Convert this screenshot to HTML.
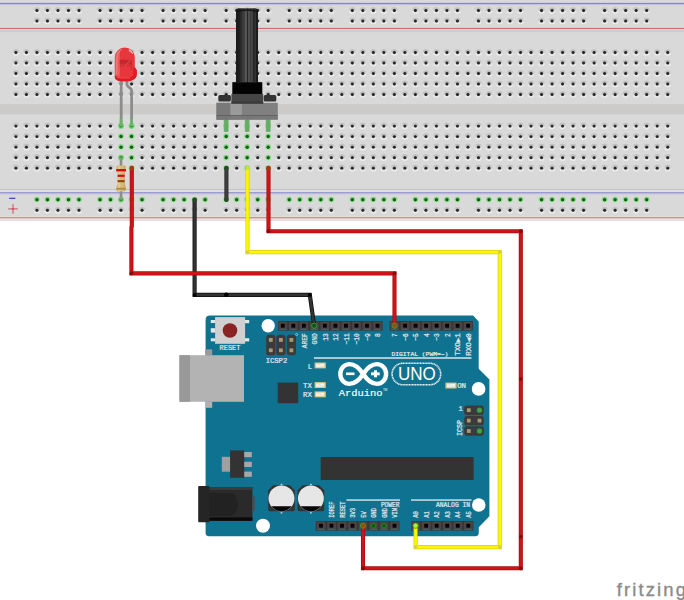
<!DOCTYPE html>
<html><head><meta charset="utf-8"><title>fritzing</title>
<style>html,body{margin:0;padding:0;background:#fff;width:684px;height:600px;overflow:hidden}
svg{display:block}</style></head><body>
<svg width="684" height="600" viewBox="0 0 684 600">
<rect width="684" height="600" fill="#fff"/>
<defs>
<linearGradient id="hg" x1="0" y1="0" x2="0" y2="1">
 <stop offset="0" stop-color="#b8b8b8"/><stop offset="0.35" stop-color="#c4c4c4"/><stop offset="0.55" stop-color="#dcdcdc"/><stop offset="0.75" stop-color="#efefef"/><stop offset="1" stop-color="#f2f2f2"/>
</linearGradient>
<radialGradient id="hc"><stop offset="0" stop-color="#202020"/><stop offset="0.55" stop-color="#2a2a2a"/><stop offset="1" stop-color="#5a5a5a"/></radialGradient>
<linearGradient id="gg" x1="0" y1="0" x2="0" y2="1">
 <stop offset="0" stop-color="#74d274"/><stop offset="1" stop-color="#a8f0a8"/>
</linearGradient>
<g id="h"><circle r="3.3" fill="url(#hg)" opacity="0.85"/><circle r="1.7" fill="url(#hc)"/></g>
<g id="g"><circle r="3.0" fill="url(#gg)"/><circle r="1.75" fill="#1c5a1c"/></g>
<linearGradient id="shaft" x1="0" y1="0" x2="1" y2="0">
 <stop offset="0" stop-color="#1a1a1a"/><stop offset="0.5" stop-color="#4a4a4a"/><stop offset="1" stop-color="#1a1a1a"/>
</linearGradient>
</defs>
<rect x="0" y="0" width="684" height="220.7" fill="#d9d9d9"/>
<rect x="0" y="1.9" width="684" height="0.9" fill="#e2e2e4"/>
<rect x="0" y="2.8" width="684" height="1.3" fill="#8484c0"/>
<rect x="0" y="4.1" width="684" height="1.0" fill="#bebee0"/>
<rect x="0" y="26.9" width="684" height="0.95" fill="#e4dcdc"/>
<rect x="0" y="27.85" width="684" height="1.3" fill="#d86a6a"/>
<rect x="0" y="29.15" width="684" height="1.0" fill="#e2dada"/>
<rect x="0" y="30.3" width="684" height="1.8" fill="#cbcbcb"/>
<rect x="0" y="104.1" width="684" height="10.2" fill="#cccbca"/>
<rect x="0" y="189.0" width="684" height="1.2" fill="#c2c2c2"/>
<rect x="0" y="190.2" width="684" height="1.6" fill="#e2e2e2"/>
<rect x="0" y="192.2" width="684" height="1.3" fill="#8c8cd0"/>
<rect x="0" y="193.5" width="684" height="0.9" fill="#c4c4e4"/>
<rect x="0" y="216.3" width="684" height="0.9" fill="#e4dcdc"/>
<rect x="0" y="217.2" width="684" height="1.3" fill="#e07878"/>
<rect x="0" y="218.5" width="684" height="2.2" fill="#e2e2e2"/>
<use href="#h" x="15.90" y="52.50"/>
<use href="#h" x="26.41" y="52.50"/>
<use href="#h" x="36.93" y="52.50"/>
<use href="#h" x="47.44" y="52.50"/>
<use href="#h" x="57.95" y="52.50"/>
<use href="#h" x="68.47" y="52.50"/>
<use href="#h" x="78.98" y="52.50"/>
<use href="#h" x="89.49" y="52.50"/>
<use href="#h" x="100.00" y="52.50"/>
<use href="#h" x="110.52" y="52.50"/>
<use href="#h" x="121.03" y="52.50"/>
<use href="#h" x="131.54" y="52.50"/>
<use href="#h" x="142.06" y="52.50"/>
<use href="#h" x="152.57" y="52.50"/>
<use href="#h" x="163.08" y="52.50"/>
<use href="#h" x="173.59" y="52.50"/>
<use href="#h" x="184.11" y="52.50"/>
<use href="#h" x="194.62" y="52.50"/>
<use href="#h" x="205.13" y="52.50"/>
<use href="#h" x="215.65" y="52.50"/>
<use href="#h" x="226.16" y="52.50"/>
<use href="#h" x="236.67" y="52.50"/>
<use href="#h" x="247.19" y="52.50"/>
<use href="#h" x="257.70" y="52.50"/>
<use href="#h" x="268.21" y="52.50"/>
<use href="#h" x="278.72" y="52.50"/>
<use href="#h" x="289.24" y="52.50"/>
<use href="#h" x="299.75" y="52.50"/>
<use href="#h" x="310.26" y="52.50"/>
<use href="#h" x="320.78" y="52.50"/>
<use href="#h" x="331.29" y="52.50"/>
<use href="#h" x="341.80" y="52.50"/>
<use href="#h" x="352.32" y="52.50"/>
<use href="#h" x="362.83" y="52.50"/>
<use href="#h" x="373.34" y="52.50"/>
<use href="#h" x="383.85" y="52.50"/>
<use href="#h" x="394.37" y="52.50"/>
<use href="#h" x="404.88" y="52.50"/>
<use href="#h" x="415.39" y="52.50"/>
<use href="#h" x="425.91" y="52.50"/>
<use href="#h" x="436.42" y="52.50"/>
<use href="#h" x="446.93" y="52.50"/>
<use href="#h" x="457.45" y="52.50"/>
<use href="#h" x="467.96" y="52.50"/>
<use href="#h" x="478.47" y="52.50"/>
<use href="#h" x="488.98" y="52.50"/>
<use href="#h" x="499.50" y="52.50"/>
<use href="#h" x="510.01" y="52.50"/>
<use href="#h" x="520.52" y="52.50"/>
<use href="#h" x="531.04" y="52.50"/>
<use href="#h" x="541.55" y="52.50"/>
<use href="#h" x="552.06" y="52.50"/>
<use href="#h" x="562.58" y="52.50"/>
<use href="#h" x="573.09" y="52.50"/>
<use href="#h" x="583.60" y="52.50"/>
<use href="#h" x="594.12" y="52.50"/>
<use href="#h" x="604.63" y="52.50"/>
<use href="#h" x="615.14" y="52.50"/>
<use href="#h" x="625.65" y="52.50"/>
<use href="#h" x="636.17" y="52.50"/>
<use href="#h" x="646.68" y="52.50"/>
<use href="#h" x="657.19" y="52.50"/>
<use href="#h" x="667.71" y="52.50"/>
<use href="#h" x="15.90" y="63.01"/>
<use href="#h" x="26.41" y="63.01"/>
<use href="#h" x="36.93" y="63.01"/>
<use href="#h" x="47.44" y="63.01"/>
<use href="#h" x="57.95" y="63.01"/>
<use href="#h" x="68.47" y="63.01"/>
<use href="#h" x="78.98" y="63.01"/>
<use href="#h" x="89.49" y="63.01"/>
<use href="#h" x="100.00" y="63.01"/>
<use href="#h" x="110.52" y="63.01"/>
<use href="#h" x="121.03" y="63.01"/>
<use href="#h" x="131.54" y="63.01"/>
<use href="#h" x="142.06" y="63.01"/>
<use href="#h" x="152.57" y="63.01"/>
<use href="#h" x="163.08" y="63.01"/>
<use href="#h" x="173.59" y="63.01"/>
<use href="#h" x="184.11" y="63.01"/>
<use href="#h" x="194.62" y="63.01"/>
<use href="#h" x="205.13" y="63.01"/>
<use href="#h" x="215.65" y="63.01"/>
<use href="#h" x="226.16" y="63.01"/>
<use href="#h" x="236.67" y="63.01"/>
<use href="#h" x="247.19" y="63.01"/>
<use href="#h" x="257.70" y="63.01"/>
<use href="#h" x="268.21" y="63.01"/>
<use href="#h" x="278.72" y="63.01"/>
<use href="#h" x="289.24" y="63.01"/>
<use href="#h" x="299.75" y="63.01"/>
<use href="#h" x="310.26" y="63.01"/>
<use href="#h" x="320.78" y="63.01"/>
<use href="#h" x="331.29" y="63.01"/>
<use href="#h" x="341.80" y="63.01"/>
<use href="#h" x="352.32" y="63.01"/>
<use href="#h" x="362.83" y="63.01"/>
<use href="#h" x="373.34" y="63.01"/>
<use href="#h" x="383.85" y="63.01"/>
<use href="#h" x="394.37" y="63.01"/>
<use href="#h" x="404.88" y="63.01"/>
<use href="#h" x="415.39" y="63.01"/>
<use href="#h" x="425.91" y="63.01"/>
<use href="#h" x="436.42" y="63.01"/>
<use href="#h" x="446.93" y="63.01"/>
<use href="#h" x="457.45" y="63.01"/>
<use href="#h" x="467.96" y="63.01"/>
<use href="#h" x="478.47" y="63.01"/>
<use href="#h" x="488.98" y="63.01"/>
<use href="#h" x="499.50" y="63.01"/>
<use href="#h" x="510.01" y="63.01"/>
<use href="#h" x="520.52" y="63.01"/>
<use href="#h" x="531.04" y="63.01"/>
<use href="#h" x="541.55" y="63.01"/>
<use href="#h" x="552.06" y="63.01"/>
<use href="#h" x="562.58" y="63.01"/>
<use href="#h" x="573.09" y="63.01"/>
<use href="#h" x="583.60" y="63.01"/>
<use href="#h" x="594.12" y="63.01"/>
<use href="#h" x="604.63" y="63.01"/>
<use href="#h" x="615.14" y="63.01"/>
<use href="#h" x="625.65" y="63.01"/>
<use href="#h" x="636.17" y="63.01"/>
<use href="#h" x="646.68" y="63.01"/>
<use href="#h" x="657.19" y="63.01"/>
<use href="#h" x="667.71" y="63.01"/>
<use href="#h" x="15.90" y="73.53"/>
<use href="#h" x="26.41" y="73.53"/>
<use href="#h" x="36.93" y="73.53"/>
<use href="#h" x="47.44" y="73.53"/>
<use href="#h" x="57.95" y="73.53"/>
<use href="#h" x="68.47" y="73.53"/>
<use href="#h" x="78.98" y="73.53"/>
<use href="#h" x="89.49" y="73.53"/>
<use href="#h" x="100.00" y="73.53"/>
<use href="#h" x="110.52" y="73.53"/>
<use href="#h" x="121.03" y="73.53"/>
<use href="#h" x="131.54" y="73.53"/>
<use href="#h" x="142.06" y="73.53"/>
<use href="#h" x="152.57" y="73.53"/>
<use href="#h" x="163.08" y="73.53"/>
<use href="#h" x="173.59" y="73.53"/>
<use href="#h" x="184.11" y="73.53"/>
<use href="#h" x="194.62" y="73.53"/>
<use href="#h" x="205.13" y="73.53"/>
<use href="#h" x="215.65" y="73.53"/>
<use href="#h" x="226.16" y="73.53"/>
<use href="#h" x="236.67" y="73.53"/>
<use href="#h" x="247.19" y="73.53"/>
<use href="#h" x="257.70" y="73.53"/>
<use href="#h" x="268.21" y="73.53"/>
<use href="#h" x="278.72" y="73.53"/>
<use href="#h" x="289.24" y="73.53"/>
<use href="#h" x="299.75" y="73.53"/>
<use href="#h" x="310.26" y="73.53"/>
<use href="#h" x="320.78" y="73.53"/>
<use href="#h" x="331.29" y="73.53"/>
<use href="#h" x="341.80" y="73.53"/>
<use href="#h" x="352.32" y="73.53"/>
<use href="#h" x="362.83" y="73.53"/>
<use href="#h" x="373.34" y="73.53"/>
<use href="#h" x="383.85" y="73.53"/>
<use href="#h" x="394.37" y="73.53"/>
<use href="#h" x="404.88" y="73.53"/>
<use href="#h" x="415.39" y="73.53"/>
<use href="#h" x="425.91" y="73.53"/>
<use href="#h" x="436.42" y="73.53"/>
<use href="#h" x="446.93" y="73.53"/>
<use href="#h" x="457.45" y="73.53"/>
<use href="#h" x="467.96" y="73.53"/>
<use href="#h" x="478.47" y="73.53"/>
<use href="#h" x="488.98" y="73.53"/>
<use href="#h" x="499.50" y="73.53"/>
<use href="#h" x="510.01" y="73.53"/>
<use href="#h" x="520.52" y="73.53"/>
<use href="#h" x="531.04" y="73.53"/>
<use href="#h" x="541.55" y="73.53"/>
<use href="#h" x="552.06" y="73.53"/>
<use href="#h" x="562.58" y="73.53"/>
<use href="#h" x="573.09" y="73.53"/>
<use href="#h" x="583.60" y="73.53"/>
<use href="#h" x="594.12" y="73.53"/>
<use href="#h" x="604.63" y="73.53"/>
<use href="#h" x="615.14" y="73.53"/>
<use href="#h" x="625.65" y="73.53"/>
<use href="#h" x="636.17" y="73.53"/>
<use href="#h" x="646.68" y="73.53"/>
<use href="#h" x="657.19" y="73.53"/>
<use href="#h" x="667.71" y="73.53"/>
<use href="#h" x="15.90" y="84.04"/>
<use href="#h" x="26.41" y="84.04"/>
<use href="#h" x="36.93" y="84.04"/>
<use href="#h" x="47.44" y="84.04"/>
<use href="#h" x="57.95" y="84.04"/>
<use href="#h" x="68.47" y="84.04"/>
<use href="#h" x="78.98" y="84.04"/>
<use href="#h" x="89.49" y="84.04"/>
<use href="#h" x="100.00" y="84.04"/>
<use href="#h" x="110.52" y="84.04"/>
<use href="#h" x="121.03" y="84.04"/>
<use href="#h" x="131.54" y="84.04"/>
<use href="#h" x="142.06" y="84.04"/>
<use href="#h" x="152.57" y="84.04"/>
<use href="#h" x="163.08" y="84.04"/>
<use href="#h" x="173.59" y="84.04"/>
<use href="#h" x="184.11" y="84.04"/>
<use href="#h" x="194.62" y="84.04"/>
<use href="#h" x="205.13" y="84.04"/>
<use href="#h" x="215.65" y="84.04"/>
<use href="#h" x="226.16" y="84.04"/>
<use href="#h" x="236.67" y="84.04"/>
<use href="#h" x="247.19" y="84.04"/>
<use href="#h" x="257.70" y="84.04"/>
<use href="#h" x="268.21" y="84.04"/>
<use href="#h" x="278.72" y="84.04"/>
<use href="#h" x="289.24" y="84.04"/>
<use href="#h" x="299.75" y="84.04"/>
<use href="#h" x="310.26" y="84.04"/>
<use href="#h" x="320.78" y="84.04"/>
<use href="#h" x="331.29" y="84.04"/>
<use href="#h" x="341.80" y="84.04"/>
<use href="#h" x="352.32" y="84.04"/>
<use href="#h" x="362.83" y="84.04"/>
<use href="#h" x="373.34" y="84.04"/>
<use href="#h" x="383.85" y="84.04"/>
<use href="#h" x="394.37" y="84.04"/>
<use href="#h" x="404.88" y="84.04"/>
<use href="#h" x="415.39" y="84.04"/>
<use href="#h" x="425.91" y="84.04"/>
<use href="#h" x="436.42" y="84.04"/>
<use href="#h" x="446.93" y="84.04"/>
<use href="#h" x="457.45" y="84.04"/>
<use href="#h" x="467.96" y="84.04"/>
<use href="#h" x="478.47" y="84.04"/>
<use href="#h" x="488.98" y="84.04"/>
<use href="#h" x="499.50" y="84.04"/>
<use href="#h" x="510.01" y="84.04"/>
<use href="#h" x="520.52" y="84.04"/>
<use href="#h" x="531.04" y="84.04"/>
<use href="#h" x="541.55" y="84.04"/>
<use href="#h" x="552.06" y="84.04"/>
<use href="#h" x="562.58" y="84.04"/>
<use href="#h" x="573.09" y="84.04"/>
<use href="#h" x="583.60" y="84.04"/>
<use href="#h" x="594.12" y="84.04"/>
<use href="#h" x="604.63" y="84.04"/>
<use href="#h" x="615.14" y="84.04"/>
<use href="#h" x="625.65" y="84.04"/>
<use href="#h" x="636.17" y="84.04"/>
<use href="#h" x="646.68" y="84.04"/>
<use href="#h" x="657.19" y="84.04"/>
<use href="#h" x="667.71" y="84.04"/>
<use href="#h" x="15.90" y="94.55"/>
<use href="#h" x="26.41" y="94.55"/>
<use href="#h" x="36.93" y="94.55"/>
<use href="#h" x="47.44" y="94.55"/>
<use href="#h" x="57.95" y="94.55"/>
<use href="#h" x="68.47" y="94.55"/>
<use href="#h" x="78.98" y="94.55"/>
<use href="#h" x="89.49" y="94.55"/>
<use href="#h" x="100.00" y="94.55"/>
<use href="#h" x="110.52" y="94.55"/>
<use href="#h" x="121.03" y="94.55"/>
<use href="#h" x="131.54" y="94.55"/>
<use href="#h" x="142.06" y="94.55"/>
<use href="#h" x="152.57" y="94.55"/>
<use href="#h" x="163.08" y="94.55"/>
<use href="#h" x="173.59" y="94.55"/>
<use href="#h" x="184.11" y="94.55"/>
<use href="#h" x="194.62" y="94.55"/>
<use href="#h" x="205.13" y="94.55"/>
<use href="#h" x="215.65" y="94.55"/>
<use href="#h" x="226.16" y="94.55"/>
<use href="#h" x="236.67" y="94.55"/>
<use href="#h" x="247.19" y="94.55"/>
<use href="#h" x="257.70" y="94.55"/>
<use href="#h" x="268.21" y="94.55"/>
<use href="#h" x="278.72" y="94.55"/>
<use href="#h" x="289.24" y="94.55"/>
<use href="#h" x="299.75" y="94.55"/>
<use href="#h" x="310.26" y="94.55"/>
<use href="#h" x="320.78" y="94.55"/>
<use href="#h" x="331.29" y="94.55"/>
<use href="#h" x="341.80" y="94.55"/>
<use href="#h" x="352.32" y="94.55"/>
<use href="#h" x="362.83" y="94.55"/>
<use href="#h" x="373.34" y="94.55"/>
<use href="#h" x="383.85" y="94.55"/>
<use href="#h" x="394.37" y="94.55"/>
<use href="#h" x="404.88" y="94.55"/>
<use href="#h" x="415.39" y="94.55"/>
<use href="#h" x="425.91" y="94.55"/>
<use href="#h" x="436.42" y="94.55"/>
<use href="#h" x="446.93" y="94.55"/>
<use href="#h" x="457.45" y="94.55"/>
<use href="#h" x="467.96" y="94.55"/>
<use href="#h" x="478.47" y="94.55"/>
<use href="#h" x="488.98" y="94.55"/>
<use href="#h" x="499.50" y="94.55"/>
<use href="#h" x="510.01" y="94.55"/>
<use href="#h" x="520.52" y="94.55"/>
<use href="#h" x="531.04" y="94.55"/>
<use href="#h" x="541.55" y="94.55"/>
<use href="#h" x="552.06" y="94.55"/>
<use href="#h" x="562.58" y="94.55"/>
<use href="#h" x="573.09" y="94.55"/>
<use href="#h" x="583.60" y="94.55"/>
<use href="#h" x="594.12" y="94.55"/>
<use href="#h" x="604.63" y="94.55"/>
<use href="#h" x="615.14" y="94.55"/>
<use href="#h" x="625.65" y="94.55"/>
<use href="#h" x="636.17" y="94.55"/>
<use href="#h" x="646.68" y="94.55"/>
<use href="#h" x="657.19" y="94.55"/>
<use href="#h" x="667.71" y="94.55"/>
<use href="#h" x="15.90" y="126.10"/>
<use href="#h" x="26.41" y="126.10"/>
<use href="#h" x="36.93" y="126.10"/>
<use href="#h" x="47.44" y="126.10"/>
<use href="#h" x="57.95" y="126.10"/>
<use href="#h" x="68.47" y="126.10"/>
<use href="#h" x="78.98" y="126.10"/>
<use href="#h" x="89.49" y="126.10"/>
<use href="#h" x="100.00" y="126.10"/>
<use href="#h" x="110.52" y="126.10"/>
<use href="#g" x="121.03" y="126.10"/>
<use href="#g" x="131.54" y="126.10"/>
<use href="#h" x="142.06" y="126.10"/>
<use href="#h" x="152.57" y="126.10"/>
<use href="#h" x="163.08" y="126.10"/>
<use href="#h" x="173.59" y="126.10"/>
<use href="#h" x="184.11" y="126.10"/>
<use href="#h" x="194.62" y="126.10"/>
<use href="#h" x="205.13" y="126.10"/>
<use href="#h" x="215.65" y="126.10"/>
<use href="#g" x="226.16" y="126.10"/>
<use href="#h" x="236.67" y="126.10"/>
<use href="#g" x="247.19" y="126.10"/>
<use href="#h" x="257.70" y="126.10"/>
<use href="#g" x="268.21" y="126.10"/>
<use href="#h" x="278.72" y="126.10"/>
<use href="#h" x="289.24" y="126.10"/>
<use href="#h" x="299.75" y="126.10"/>
<use href="#h" x="310.26" y="126.10"/>
<use href="#h" x="320.78" y="126.10"/>
<use href="#h" x="331.29" y="126.10"/>
<use href="#h" x="341.80" y="126.10"/>
<use href="#h" x="352.32" y="126.10"/>
<use href="#h" x="362.83" y="126.10"/>
<use href="#h" x="373.34" y="126.10"/>
<use href="#h" x="383.85" y="126.10"/>
<use href="#h" x="394.37" y="126.10"/>
<use href="#h" x="404.88" y="126.10"/>
<use href="#h" x="415.39" y="126.10"/>
<use href="#h" x="425.91" y="126.10"/>
<use href="#h" x="436.42" y="126.10"/>
<use href="#h" x="446.93" y="126.10"/>
<use href="#h" x="457.45" y="126.10"/>
<use href="#h" x="467.96" y="126.10"/>
<use href="#h" x="478.47" y="126.10"/>
<use href="#h" x="488.98" y="126.10"/>
<use href="#h" x="499.50" y="126.10"/>
<use href="#h" x="510.01" y="126.10"/>
<use href="#h" x="520.52" y="126.10"/>
<use href="#h" x="531.04" y="126.10"/>
<use href="#h" x="541.55" y="126.10"/>
<use href="#h" x="552.06" y="126.10"/>
<use href="#h" x="562.58" y="126.10"/>
<use href="#h" x="573.09" y="126.10"/>
<use href="#h" x="583.60" y="126.10"/>
<use href="#h" x="594.12" y="126.10"/>
<use href="#h" x="604.63" y="126.10"/>
<use href="#h" x="615.14" y="126.10"/>
<use href="#h" x="625.65" y="126.10"/>
<use href="#h" x="636.17" y="126.10"/>
<use href="#h" x="646.68" y="126.10"/>
<use href="#h" x="657.19" y="126.10"/>
<use href="#h" x="667.71" y="126.10"/>
<use href="#h" x="15.90" y="136.61"/>
<use href="#h" x="26.41" y="136.61"/>
<use href="#h" x="36.93" y="136.61"/>
<use href="#h" x="47.44" y="136.61"/>
<use href="#h" x="57.95" y="136.61"/>
<use href="#h" x="68.47" y="136.61"/>
<use href="#h" x="78.98" y="136.61"/>
<use href="#h" x="89.49" y="136.61"/>
<use href="#h" x="100.00" y="136.61"/>
<use href="#h" x="110.52" y="136.61"/>
<use href="#g" x="121.03" y="136.61"/>
<use href="#g" x="131.54" y="136.61"/>
<use href="#h" x="142.06" y="136.61"/>
<use href="#h" x="152.57" y="136.61"/>
<use href="#h" x="163.08" y="136.61"/>
<use href="#h" x="173.59" y="136.61"/>
<use href="#h" x="184.11" y="136.61"/>
<use href="#h" x="194.62" y="136.61"/>
<use href="#h" x="205.13" y="136.61"/>
<use href="#h" x="215.65" y="136.61"/>
<use href="#g" x="226.16" y="136.61"/>
<use href="#h" x="236.67" y="136.61"/>
<use href="#g" x="247.19" y="136.61"/>
<use href="#h" x="257.70" y="136.61"/>
<use href="#g" x="268.21" y="136.61"/>
<use href="#h" x="278.72" y="136.61"/>
<use href="#h" x="289.24" y="136.61"/>
<use href="#h" x="299.75" y="136.61"/>
<use href="#h" x="310.26" y="136.61"/>
<use href="#h" x="320.78" y="136.61"/>
<use href="#h" x="331.29" y="136.61"/>
<use href="#h" x="341.80" y="136.61"/>
<use href="#h" x="352.32" y="136.61"/>
<use href="#h" x="362.83" y="136.61"/>
<use href="#h" x="373.34" y="136.61"/>
<use href="#h" x="383.85" y="136.61"/>
<use href="#h" x="394.37" y="136.61"/>
<use href="#h" x="404.88" y="136.61"/>
<use href="#h" x="415.39" y="136.61"/>
<use href="#h" x="425.91" y="136.61"/>
<use href="#h" x="436.42" y="136.61"/>
<use href="#h" x="446.93" y="136.61"/>
<use href="#h" x="457.45" y="136.61"/>
<use href="#h" x="467.96" y="136.61"/>
<use href="#h" x="478.47" y="136.61"/>
<use href="#h" x="488.98" y="136.61"/>
<use href="#h" x="499.50" y="136.61"/>
<use href="#h" x="510.01" y="136.61"/>
<use href="#h" x="520.52" y="136.61"/>
<use href="#h" x="531.04" y="136.61"/>
<use href="#h" x="541.55" y="136.61"/>
<use href="#h" x="552.06" y="136.61"/>
<use href="#h" x="562.58" y="136.61"/>
<use href="#h" x="573.09" y="136.61"/>
<use href="#h" x="583.60" y="136.61"/>
<use href="#h" x="594.12" y="136.61"/>
<use href="#h" x="604.63" y="136.61"/>
<use href="#h" x="615.14" y="136.61"/>
<use href="#h" x="625.65" y="136.61"/>
<use href="#h" x="636.17" y="136.61"/>
<use href="#h" x="646.68" y="136.61"/>
<use href="#h" x="657.19" y="136.61"/>
<use href="#h" x="667.71" y="136.61"/>
<use href="#h" x="15.90" y="147.13"/>
<use href="#h" x="26.41" y="147.13"/>
<use href="#h" x="36.93" y="147.13"/>
<use href="#h" x="47.44" y="147.13"/>
<use href="#h" x="57.95" y="147.13"/>
<use href="#h" x="68.47" y="147.13"/>
<use href="#h" x="78.98" y="147.13"/>
<use href="#h" x="89.49" y="147.13"/>
<use href="#h" x="100.00" y="147.13"/>
<use href="#h" x="110.52" y="147.13"/>
<use href="#g" x="121.03" y="147.13"/>
<use href="#g" x="131.54" y="147.13"/>
<use href="#h" x="142.06" y="147.13"/>
<use href="#h" x="152.57" y="147.13"/>
<use href="#h" x="163.08" y="147.13"/>
<use href="#h" x="173.59" y="147.13"/>
<use href="#h" x="184.11" y="147.13"/>
<use href="#h" x="194.62" y="147.13"/>
<use href="#h" x="205.13" y="147.13"/>
<use href="#h" x="215.65" y="147.13"/>
<use href="#g" x="226.16" y="147.13"/>
<use href="#h" x="236.67" y="147.13"/>
<use href="#g" x="247.19" y="147.13"/>
<use href="#h" x="257.70" y="147.13"/>
<use href="#g" x="268.21" y="147.13"/>
<use href="#h" x="278.72" y="147.13"/>
<use href="#h" x="289.24" y="147.13"/>
<use href="#h" x="299.75" y="147.13"/>
<use href="#h" x="310.26" y="147.13"/>
<use href="#h" x="320.78" y="147.13"/>
<use href="#h" x="331.29" y="147.13"/>
<use href="#h" x="341.80" y="147.13"/>
<use href="#h" x="352.32" y="147.13"/>
<use href="#h" x="362.83" y="147.13"/>
<use href="#h" x="373.34" y="147.13"/>
<use href="#h" x="383.85" y="147.13"/>
<use href="#h" x="394.37" y="147.13"/>
<use href="#h" x="404.88" y="147.13"/>
<use href="#h" x="415.39" y="147.13"/>
<use href="#h" x="425.91" y="147.13"/>
<use href="#h" x="436.42" y="147.13"/>
<use href="#h" x="446.93" y="147.13"/>
<use href="#h" x="457.45" y="147.13"/>
<use href="#h" x="467.96" y="147.13"/>
<use href="#h" x="478.47" y="147.13"/>
<use href="#h" x="488.98" y="147.13"/>
<use href="#h" x="499.50" y="147.13"/>
<use href="#h" x="510.01" y="147.13"/>
<use href="#h" x="520.52" y="147.13"/>
<use href="#h" x="531.04" y="147.13"/>
<use href="#h" x="541.55" y="147.13"/>
<use href="#h" x="552.06" y="147.13"/>
<use href="#h" x="562.58" y="147.13"/>
<use href="#h" x="573.09" y="147.13"/>
<use href="#h" x="583.60" y="147.13"/>
<use href="#h" x="594.12" y="147.13"/>
<use href="#h" x="604.63" y="147.13"/>
<use href="#h" x="615.14" y="147.13"/>
<use href="#h" x="625.65" y="147.13"/>
<use href="#h" x="636.17" y="147.13"/>
<use href="#h" x="646.68" y="147.13"/>
<use href="#h" x="657.19" y="147.13"/>
<use href="#h" x="667.71" y="147.13"/>
<use href="#h" x="15.90" y="157.64"/>
<use href="#h" x="26.41" y="157.64"/>
<use href="#h" x="36.93" y="157.64"/>
<use href="#h" x="47.44" y="157.64"/>
<use href="#h" x="57.95" y="157.64"/>
<use href="#h" x="68.47" y="157.64"/>
<use href="#h" x="78.98" y="157.64"/>
<use href="#h" x="89.49" y="157.64"/>
<use href="#h" x="100.00" y="157.64"/>
<use href="#h" x="110.52" y="157.64"/>
<use href="#g" x="121.03" y="157.64"/>
<use href="#g" x="131.54" y="157.64"/>
<use href="#h" x="142.06" y="157.64"/>
<use href="#h" x="152.57" y="157.64"/>
<use href="#h" x="163.08" y="157.64"/>
<use href="#h" x="173.59" y="157.64"/>
<use href="#h" x="184.11" y="157.64"/>
<use href="#h" x="194.62" y="157.64"/>
<use href="#h" x="205.13" y="157.64"/>
<use href="#h" x="215.65" y="157.64"/>
<use href="#g" x="226.16" y="157.64"/>
<use href="#h" x="236.67" y="157.64"/>
<use href="#g" x="247.19" y="157.64"/>
<use href="#h" x="257.70" y="157.64"/>
<use href="#g" x="268.21" y="157.64"/>
<use href="#h" x="278.72" y="157.64"/>
<use href="#h" x="289.24" y="157.64"/>
<use href="#h" x="299.75" y="157.64"/>
<use href="#h" x="310.26" y="157.64"/>
<use href="#h" x="320.78" y="157.64"/>
<use href="#h" x="331.29" y="157.64"/>
<use href="#h" x="341.80" y="157.64"/>
<use href="#h" x="352.32" y="157.64"/>
<use href="#h" x="362.83" y="157.64"/>
<use href="#h" x="373.34" y="157.64"/>
<use href="#h" x="383.85" y="157.64"/>
<use href="#h" x="394.37" y="157.64"/>
<use href="#h" x="404.88" y="157.64"/>
<use href="#h" x="415.39" y="157.64"/>
<use href="#h" x="425.91" y="157.64"/>
<use href="#h" x="436.42" y="157.64"/>
<use href="#h" x="446.93" y="157.64"/>
<use href="#h" x="457.45" y="157.64"/>
<use href="#h" x="467.96" y="157.64"/>
<use href="#h" x="478.47" y="157.64"/>
<use href="#h" x="488.98" y="157.64"/>
<use href="#h" x="499.50" y="157.64"/>
<use href="#h" x="510.01" y="157.64"/>
<use href="#h" x="520.52" y="157.64"/>
<use href="#h" x="531.04" y="157.64"/>
<use href="#h" x="541.55" y="157.64"/>
<use href="#h" x="552.06" y="157.64"/>
<use href="#h" x="562.58" y="157.64"/>
<use href="#h" x="573.09" y="157.64"/>
<use href="#h" x="583.60" y="157.64"/>
<use href="#h" x="594.12" y="157.64"/>
<use href="#h" x="604.63" y="157.64"/>
<use href="#h" x="615.14" y="157.64"/>
<use href="#h" x="625.65" y="157.64"/>
<use href="#h" x="636.17" y="157.64"/>
<use href="#h" x="646.68" y="157.64"/>
<use href="#h" x="657.19" y="157.64"/>
<use href="#h" x="667.71" y="157.64"/>
<use href="#h" x="15.90" y="168.15"/>
<use href="#h" x="26.41" y="168.15"/>
<use href="#h" x="36.93" y="168.15"/>
<use href="#h" x="47.44" y="168.15"/>
<use href="#h" x="57.95" y="168.15"/>
<use href="#h" x="68.47" y="168.15"/>
<use href="#h" x="78.98" y="168.15"/>
<use href="#h" x="89.49" y="168.15"/>
<use href="#h" x="100.00" y="168.15"/>
<use href="#h" x="110.52" y="168.15"/>
<use href="#g" x="121.03" y="168.15"/>
<use href="#g" x="131.54" y="168.15"/>
<use href="#h" x="142.06" y="168.15"/>
<use href="#h" x="152.57" y="168.15"/>
<use href="#h" x="163.08" y="168.15"/>
<use href="#h" x="173.59" y="168.15"/>
<use href="#h" x="184.11" y="168.15"/>
<use href="#h" x="194.62" y="168.15"/>
<use href="#h" x="205.13" y="168.15"/>
<use href="#h" x="215.65" y="168.15"/>
<use href="#g" x="226.16" y="168.15"/>
<use href="#h" x="236.67" y="168.15"/>
<use href="#g" x="247.19" y="168.15"/>
<use href="#h" x="257.70" y="168.15"/>
<use href="#g" x="268.21" y="168.15"/>
<use href="#h" x="278.72" y="168.15"/>
<use href="#h" x="289.24" y="168.15"/>
<use href="#h" x="299.75" y="168.15"/>
<use href="#h" x="310.26" y="168.15"/>
<use href="#h" x="320.78" y="168.15"/>
<use href="#h" x="331.29" y="168.15"/>
<use href="#h" x="341.80" y="168.15"/>
<use href="#h" x="352.32" y="168.15"/>
<use href="#h" x="362.83" y="168.15"/>
<use href="#h" x="373.34" y="168.15"/>
<use href="#h" x="383.85" y="168.15"/>
<use href="#h" x="394.37" y="168.15"/>
<use href="#h" x="404.88" y="168.15"/>
<use href="#h" x="415.39" y="168.15"/>
<use href="#h" x="425.91" y="168.15"/>
<use href="#h" x="436.42" y="168.15"/>
<use href="#h" x="446.93" y="168.15"/>
<use href="#h" x="457.45" y="168.15"/>
<use href="#h" x="467.96" y="168.15"/>
<use href="#h" x="478.47" y="168.15"/>
<use href="#h" x="488.98" y="168.15"/>
<use href="#h" x="499.50" y="168.15"/>
<use href="#h" x="510.01" y="168.15"/>
<use href="#h" x="520.52" y="168.15"/>
<use href="#h" x="531.04" y="168.15"/>
<use href="#h" x="541.55" y="168.15"/>
<use href="#h" x="552.06" y="168.15"/>
<use href="#h" x="562.58" y="168.15"/>
<use href="#h" x="573.09" y="168.15"/>
<use href="#h" x="583.60" y="168.15"/>
<use href="#h" x="594.12" y="168.15"/>
<use href="#h" x="604.63" y="168.15"/>
<use href="#h" x="615.14" y="168.15"/>
<use href="#h" x="625.65" y="168.15"/>
<use href="#h" x="636.17" y="168.15"/>
<use href="#h" x="646.68" y="168.15"/>
<use href="#h" x="657.19" y="168.15"/>
<use href="#h" x="667.71" y="168.15"/>
<use href="#h" x="36.93" y="10.50"/>
<use href="#h" x="47.44" y="10.50"/>
<use href="#h" x="57.95" y="10.50"/>
<use href="#h" x="68.47" y="10.50"/>
<use href="#h" x="78.98" y="10.50"/>
<use href="#h" x="100.00" y="10.50"/>
<use href="#h" x="110.52" y="10.50"/>
<use href="#h" x="121.03" y="10.50"/>
<use href="#h" x="131.54" y="10.50"/>
<use href="#h" x="142.06" y="10.50"/>
<use href="#h" x="163.08" y="10.50"/>
<use href="#h" x="173.59" y="10.50"/>
<use href="#h" x="184.11" y="10.50"/>
<use href="#h" x="194.62" y="10.50"/>
<use href="#h" x="205.13" y="10.50"/>
<use href="#h" x="226.16" y="10.50"/>
<use href="#h" x="236.67" y="10.50"/>
<use href="#h" x="247.19" y="10.50"/>
<use href="#h" x="257.70" y="10.50"/>
<use href="#h" x="268.21" y="10.50"/>
<use href="#h" x="289.24" y="10.50"/>
<use href="#h" x="299.75" y="10.50"/>
<use href="#h" x="310.26" y="10.50"/>
<use href="#h" x="320.78" y="10.50"/>
<use href="#h" x="331.29" y="10.50"/>
<use href="#h" x="352.32" y="10.50"/>
<use href="#h" x="362.83" y="10.50"/>
<use href="#h" x="373.34" y="10.50"/>
<use href="#h" x="383.85" y="10.50"/>
<use href="#h" x="394.37" y="10.50"/>
<use href="#h" x="415.39" y="10.50"/>
<use href="#h" x="425.91" y="10.50"/>
<use href="#h" x="436.42" y="10.50"/>
<use href="#h" x="446.93" y="10.50"/>
<use href="#h" x="457.45" y="10.50"/>
<use href="#h" x="478.47" y="10.50"/>
<use href="#h" x="488.98" y="10.50"/>
<use href="#h" x="499.50" y="10.50"/>
<use href="#h" x="510.01" y="10.50"/>
<use href="#h" x="520.52" y="10.50"/>
<use href="#h" x="541.55" y="10.50"/>
<use href="#h" x="552.06" y="10.50"/>
<use href="#h" x="562.58" y="10.50"/>
<use href="#h" x="573.09" y="10.50"/>
<use href="#h" x="583.60" y="10.50"/>
<use href="#h" x="604.63" y="10.50"/>
<use href="#h" x="615.14" y="10.50"/>
<use href="#h" x="625.65" y="10.50"/>
<use href="#h" x="636.17" y="10.50"/>
<use href="#h" x="646.68" y="10.50"/>
<use href="#h" x="36.93" y="21.00"/>
<use href="#h" x="47.44" y="21.00"/>
<use href="#h" x="57.95" y="21.00"/>
<use href="#h" x="68.47" y="21.00"/>
<use href="#h" x="78.98" y="21.00"/>
<use href="#h" x="100.00" y="21.00"/>
<use href="#h" x="110.52" y="21.00"/>
<use href="#h" x="121.03" y="21.00"/>
<use href="#h" x="131.54" y="21.00"/>
<use href="#h" x="142.06" y="21.00"/>
<use href="#h" x="163.08" y="21.00"/>
<use href="#h" x="173.59" y="21.00"/>
<use href="#h" x="184.11" y="21.00"/>
<use href="#h" x="194.62" y="21.00"/>
<use href="#h" x="205.13" y="21.00"/>
<use href="#h" x="226.16" y="21.00"/>
<use href="#h" x="236.67" y="21.00"/>
<use href="#h" x="247.19" y="21.00"/>
<use href="#h" x="257.70" y="21.00"/>
<use href="#h" x="268.21" y="21.00"/>
<use href="#h" x="289.24" y="21.00"/>
<use href="#h" x="299.75" y="21.00"/>
<use href="#h" x="310.26" y="21.00"/>
<use href="#h" x="320.78" y="21.00"/>
<use href="#h" x="331.29" y="21.00"/>
<use href="#h" x="352.32" y="21.00"/>
<use href="#h" x="362.83" y="21.00"/>
<use href="#h" x="373.34" y="21.00"/>
<use href="#h" x="383.85" y="21.00"/>
<use href="#h" x="394.37" y="21.00"/>
<use href="#h" x="415.39" y="21.00"/>
<use href="#h" x="425.91" y="21.00"/>
<use href="#h" x="436.42" y="21.00"/>
<use href="#h" x="446.93" y="21.00"/>
<use href="#h" x="457.45" y="21.00"/>
<use href="#h" x="478.47" y="21.00"/>
<use href="#h" x="488.98" y="21.00"/>
<use href="#h" x="499.50" y="21.00"/>
<use href="#h" x="510.01" y="21.00"/>
<use href="#h" x="520.52" y="21.00"/>
<use href="#h" x="541.55" y="21.00"/>
<use href="#h" x="552.06" y="21.00"/>
<use href="#h" x="562.58" y="21.00"/>
<use href="#h" x="573.09" y="21.00"/>
<use href="#h" x="583.60" y="21.00"/>
<use href="#h" x="604.63" y="21.00"/>
<use href="#h" x="615.14" y="21.00"/>
<use href="#h" x="625.65" y="21.00"/>
<use href="#h" x="636.17" y="21.00"/>
<use href="#h" x="646.68" y="21.00"/>
<use href="#g" x="36.93" y="199.70"/>
<use href="#g" x="47.44" y="199.70"/>
<use href="#g" x="57.95" y="199.70"/>
<use href="#g" x="68.47" y="199.70"/>
<use href="#g" x="78.98" y="199.70"/>
<use href="#g" x="100.00" y="199.70"/>
<use href="#g" x="110.52" y="199.70"/>
<use href="#g" x="121.03" y="199.70"/>
<use href="#g" x="131.54" y="199.70"/>
<use href="#g" x="142.06" y="199.70"/>
<use href="#g" x="163.08" y="199.70"/>
<use href="#g" x="173.59" y="199.70"/>
<use href="#g" x="184.11" y="199.70"/>
<use href="#g" x="194.62" y="199.70"/>
<use href="#g" x="205.13" y="199.70"/>
<use href="#g" x="226.16" y="199.70"/>
<use href="#g" x="236.67" y="199.70"/>
<use href="#g" x="247.19" y="199.70"/>
<use href="#g" x="257.70" y="199.70"/>
<use href="#g" x="268.21" y="199.70"/>
<use href="#g" x="289.24" y="199.70"/>
<use href="#g" x="299.75" y="199.70"/>
<use href="#g" x="310.26" y="199.70"/>
<use href="#g" x="320.78" y="199.70"/>
<use href="#g" x="331.29" y="199.70"/>
<use href="#g" x="352.32" y="199.70"/>
<use href="#g" x="362.83" y="199.70"/>
<use href="#g" x="373.34" y="199.70"/>
<use href="#g" x="383.85" y="199.70"/>
<use href="#g" x="394.37" y="199.70"/>
<use href="#g" x="415.39" y="199.70"/>
<use href="#g" x="425.91" y="199.70"/>
<use href="#g" x="436.42" y="199.70"/>
<use href="#g" x="446.93" y="199.70"/>
<use href="#g" x="457.45" y="199.70"/>
<use href="#g" x="478.47" y="199.70"/>
<use href="#g" x="488.98" y="199.70"/>
<use href="#g" x="499.50" y="199.70"/>
<use href="#g" x="510.01" y="199.70"/>
<use href="#g" x="520.52" y="199.70"/>
<use href="#g" x="541.55" y="199.70"/>
<use href="#g" x="552.06" y="199.70"/>
<use href="#g" x="562.58" y="199.70"/>
<use href="#g" x="573.09" y="199.70"/>
<use href="#g" x="583.60" y="199.70"/>
<use href="#g" x="604.63" y="199.70"/>
<use href="#g" x="615.14" y="199.70"/>
<use href="#g" x="625.65" y="199.70"/>
<use href="#g" x="636.17" y="199.70"/>
<use href="#g" x="646.68" y="199.70"/>
<use href="#h" x="36.93" y="210.30"/>
<use href="#h" x="47.44" y="210.30"/>
<use href="#h" x="57.95" y="210.30"/>
<use href="#h" x="68.47" y="210.30"/>
<use href="#h" x="78.98" y="210.30"/>
<use href="#h" x="100.00" y="210.30"/>
<use href="#h" x="110.52" y="210.30"/>
<use href="#h" x="121.03" y="210.30"/>
<use href="#h" x="131.54" y="210.30"/>
<use href="#h" x="142.06" y="210.30"/>
<use href="#h" x="163.08" y="210.30"/>
<use href="#h" x="173.59" y="210.30"/>
<use href="#h" x="184.11" y="210.30"/>
<use href="#h" x="194.62" y="210.30"/>
<use href="#h" x="205.13" y="210.30"/>
<use href="#h" x="226.16" y="210.30"/>
<use href="#h" x="236.67" y="210.30"/>
<use href="#h" x="247.19" y="210.30"/>
<use href="#h" x="257.70" y="210.30"/>
<use href="#h" x="268.21" y="210.30"/>
<use href="#h" x="289.24" y="210.30"/>
<use href="#h" x="299.75" y="210.30"/>
<use href="#h" x="310.26" y="210.30"/>
<use href="#h" x="320.78" y="210.30"/>
<use href="#h" x="331.29" y="210.30"/>
<use href="#h" x="352.32" y="210.30"/>
<use href="#h" x="362.83" y="210.30"/>
<use href="#h" x="373.34" y="210.30"/>
<use href="#h" x="383.85" y="210.30"/>
<use href="#h" x="394.37" y="210.30"/>
<use href="#h" x="415.39" y="210.30"/>
<use href="#h" x="425.91" y="210.30"/>
<use href="#h" x="436.42" y="210.30"/>
<use href="#h" x="446.93" y="210.30"/>
<use href="#h" x="457.45" y="210.30"/>
<use href="#h" x="478.47" y="210.30"/>
<use href="#h" x="488.98" y="210.30"/>
<use href="#h" x="499.50" y="210.30"/>
<use href="#h" x="510.01" y="210.30"/>
<use href="#h" x="520.52" y="210.30"/>
<use href="#h" x="541.55" y="210.30"/>
<use href="#h" x="552.06" y="210.30"/>
<use href="#h" x="562.58" y="210.30"/>
<use href="#h" x="573.09" y="210.30"/>
<use href="#h" x="583.60" y="210.30"/>
<use href="#h" x="604.63" y="210.30"/>
<use href="#h" x="615.14" y="210.30"/>
<use href="#h" x="625.65" y="210.30"/>
<use href="#h" x="636.17" y="210.30"/>
<use href="#h" x="646.68" y="210.30"/>
<rect x="9.2" y="197.7" width="6.2" height="1.3" fill="#4646c4"/>
<rect x="8.2" y="208.4" width="9.6" height="1.0" fill="#cc5060"/><rect x="12.5" y="204.1" width="1.0" height="9.6" fill="#cc5060"/><rect x="12.4" y="208.3" width="1.2" height="1.2" fill="#d02040"/>
<path d="M121.2 80 V126" stroke="#8c8c8c" stroke-width="2.8" fill="none"/>
<path d="M126.9 80 V84.2 Q126.9 85.3 128 86.3 L130.4 88.3 Q131.6 89.4 131.6 91 V126" stroke="#8c8c8c" stroke-width="2.8" fill="none" stroke-linejoin="round"/>
<rect x="119.53" y="118.5" width="3" height="7.6" fill="#5cc45c" opacity="0.6"/>
<circle cx="121.03" cy="126.1" r="2.8" fill="#5cc45c" opacity="0.55"/>
<rect x="130.04" y="118.5" width="3" height="7.6" fill="#5cc45c" opacity="0.6"/>
<circle cx="131.54" cy="126.1" r="2.8" fill="#5cc45c" opacity="0.55"/>
<path d="M114.8 77.5 V57.6 A10 10 0 0 1 134.8 57.6 V67.2 Q136.9 69 136.9 73 Q136.9 79.5 130 80.9 Q125 81.7 119 80.9 Q114.8 80 114.8 77.5 Z" fill="#e8373c"/>
<path d="M134.8 67.2 Q136.9 69 136.9 73 Q136.9 78 133 79.6 L133.2 67.2 Z" fill="#e51c23"/>
<path d="M115.2 58 Q116 51 121 48.6 L120 50 Q119.8 54 119.8 60 V76.5 H115.2 Z" fill="#ee5a5f"/>
<path d="M114.8 75.5 Q116 77.2 124 77.5 Q131 77.5 136.6 75.5 Q136 79.5 130 80.9 Q125 81.7 119 80.9 Q114.8 80 114.8 75.5 Z" fill="#e01a22"/>
<path d="M117 77.4 Q121 78.2 130 77.9" stroke="#f26a6e" stroke-width="0.7" fill="none"/>
<rect x="119.8" y="59.9" width="12" height="6.8" fill="#d53034"/>
<rect x="119.8" y="59.9" width="12" height="3.7" fill="#c4282c"/>
<path d="M124.5 66.7 L130.6 60" stroke="#ef5054" stroke-width="0.9"/>
<path d="M131.4 60 V70.5" stroke="#c8282c" stroke-width="0.8"/>
<path d="M116.8 74 V59 Q117.2 52 122 49.3" stroke="#f48e92" stroke-width="0.9" fill="none" opacity="0.9"/>
<path d="M128.8 50 Q131.5 51.2 132.8 53.6" stroke="#f8b0b0" stroke-width="1.4" fill="none"/>
<path d="M121.03 157.6 V199.7" stroke="#8c8c8c" stroke-width="2.6"/>
<circle cx="121.03" cy="157.6" r="2.8" fill="#5cc45c" opacity="0.5"/>
<circle cx="121.03" cy="199.7" r="2.8" fill="#5cc45c" opacity="0.5"/>
<path d="M116.2 166.5 Q116.2 165.4 117.6 165.4 H124.6 Q126 165.4 126 166.8 V170.5 Q124.6 172 124.6 174 V183 Q124.6 185.2 126 186.5 V190.2 Q126 191.5 124.6 191.5 H117.6 Q116.2 191.5 116.2 190.2 V186.5 Q117.6 185.2 117.6 183 V174 Q117.6 172 116.2 170.5 Z" fill="#dab878"/>
<rect x="118.2" y="166" width="2.2" height="25" fill="#e8cc98" opacity="0.7"/>
<rect x="123.6" y="166" width="1.4" height="25" fill="#c8a060" opacity="0.6"/>
<path d="M116.2 169 H126 V171.4 H116.2 Z" fill="#d01018"/>
<rect x="117.6" y="174.7" width="7" height="2.2" fill="#d01018"/>
<rect x="117.6" y="180.1" width="7" height="2.1" fill="#9a4008"/>
<rect x="116.4" y="187.8" width="9.4" height="1.9" fill="#a89040"/>
<rect x="223.76" y="119.4" width="4.8" height="12.3" fill="#6cbc6c"/>
<rect x="224.46" y="119.4" width="3.4" height="12.3" fill="#68a868"/>
<rect x="244.79" y="119.4" width="4.8" height="12.3" fill="#6cbc6c"/>
<rect x="245.49" y="119.4" width="3.4" height="12.3" fill="#68a868"/>
<rect x="265.81" y="119.4" width="4.8" height="12.3" fill="#6cbc6c"/>
<rect x="266.51" y="119.4" width="3.4" height="12.3" fill="#68a868"/>
<clipPath id="shc"><path d="M235.9 82.3 V12 Q235.9 8.6 239 8.6 H255 Q258.1 8.6 258.1 12 V82.3 Z"/></clipPath>
<g clip-path="url(#shc)"><rect x="235.9" y="8" width="22.2" height="75" fill="#1c1c1c"/><rect x="236.1" y="8" width="3.50" height="75" fill="#1c1c1c"/><rect x="239.6" y="8" width="2.00" height="75" fill="#2a2a2a"/><rect x="241.6" y="8" width="2.90" height="75" fill="#3a3a3a"/><rect x="244.5" y="8" width="2.60" height="75" fill="#555555"/><rect x="247.1" y="8" width="0.90" height="75" fill="#262626"/><rect x="248.0" y="8" width="2.60" height="75" fill="#4e4e4e"/><rect x="250.6" y="8" width="2.70" height="75" fill="#444444"/><rect x="253.3" y="8" width="1.00" height="75" fill="#262626"/><rect x="254.3" y="8" width="1.70" height="75" fill="#333333"/><rect x="256.0" y="8" width="2.10" height="75" fill="#1c1c1c"/></g>
<path d="M236.3 11.8 Q247 8.2 257.7 11.8" stroke="#151515" stroke-width="1.6" fill="none"/>
<rect x="232.3" y="82.2" width="30" height="11.9" fill="#030303"/>
<rect x="216.5" y="102.8" width="61.3" height="16.8" fill="#808080"/>
<rect x="216.5" y="102.8" width="13.9" height="16.8" fill="#797979"/>
<rect x="230.4" y="102.8" width="11.5" height="16.8" fill="#9a9a9a"/>
<rect x="216.5" y="115" width="61.3" height="0.9" fill="#5e5e5e"/>
<rect x="216.5" y="115.9" width="61.3" height="3.7" fill="#777" opacity="0.9"/>
<rect x="231.4" y="93.9" width="31.8" height="9.7" fill="#454545"/>
<rect x="231.4" y="101.5" width="31.8" height="2.1" fill="#3a3a3a"/>
<rect x="218.3" y="94.9" width="12.6" height="6.7" rx="1.5" fill="#333"/>
<rect x="263.7" y="94.9" width="12.6" height="6.7" rx="1.5" fill="#333"/>
<path d="M210 315.6 H473.1 L478.7 321.6 V368.7 L489.4 379.4 V516.3 L478.8 527.3 V532.8 Q478.8 536.2 475.5 536.2 H209 Q205.6 536.2 205.6 532.8 V320 Q205.6 315.6 210 315.6 Z" fill="#107291"/>
<circle cx="268.2" cy="325.7" r="6.7" fill="#ffffff"/>
<circle cx="478.6" cy="388.9" r="6.8" fill="#ffffff"/>
<circle cx="478.75" cy="505.0" r="6.75" fill="#ffffff"/>
<circle cx="263.0" cy="525.8" r="7.0" fill="#ffffff"/>
<rect x="210.8" y="320" width="4.5" height="3" fill="#e6e6e6"/><rect x="210.8" y="328.2" width="4.5" height="4.4" fill="#e6e6e6"/><rect x="210.8" y="338.3" width="4.5" height="3" fill="#e6e6e6"/>
<rect x="245" y="320" width="4.2" height="3.2" fill="#e6e6e6"/><rect x="245" y="338.2" width="4.2" height="3.2" fill="#e6e6e6"/>
<rect x="215.1" y="317.1" width="30" height="26.7" fill="#d0d0d0"/>
<circle cx="230" cy="330.5" r="7.3" fill="#8a2323"/>
<text x="230" y="349.8" text-anchor="middle" style="font-family:'Liberation Mono',monospace;fill:#e4e8ea;stroke:#e4e8ea;stroke-width:0.22px;font-size:6.9px" textLength="21" lengthAdjust="spacingAndGlyphs">RESET</text>
<rect x="205.2" y="349.4" width="7" height="6" fill="#9a9a9a"/>
<rect x="205.2" y="401.6" width="7" height="6.2" fill="#b2b2b2"/>
<rect x="179.4" y="355.2" width="64.6" height="46.6" fill="#b3b3b3"/>
<rect x="179.4" y="355.2" width="10.6" height="46.6" fill="#999999"/>
<rect x="278" y="321" width="104.60" height="9.60" fill="#363636"/><rect x="278.40" y="321.50" width="8.8" height="8.60" fill="#464646"/><rect x="279.40" y="328.90" width="6.8" height="0.6" fill="#686868"/><rect x="280.90" y="323.80" width="3.8" height="3.8" fill="#000"/><rect x="288.92" y="321.50" width="8.8" height="8.60" fill="#464646"/><rect x="289.92" y="328.90" width="6.8" height="0.6" fill="#686868"/><rect x="291.42" y="323.80" width="3.8" height="3.8" fill="#000"/><rect x="299.44" y="321.50" width="8.8" height="8.60" fill="#464646"/><rect x="300.44" y="328.90" width="6.8" height="0.6" fill="#686868"/><rect x="301.94" y="323.80" width="3.8" height="3.8" fill="#000"/><rect x="309.96" y="321.50" width="8.8" height="8.60" fill="#464646"/><rect x="310.96" y="328.90" width="6.8" height="0.6" fill="#686868"/><rect x="312.46" y="323.80" width="3.8" height="3.8" fill="#000"/><circle cx="314.36" cy="325.80" r="2.3" fill="#0a5a0a" stroke="#2a9a2a" stroke-width="0.8"/><rect x="320.48" y="321.50" width="8.8" height="8.60" fill="#464646"/><rect x="321.48" y="328.90" width="6.8" height="0.6" fill="#686868"/><rect x="322.98" y="323.80" width="3.8" height="3.8" fill="#000"/><rect x="331.00" y="321.50" width="8.8" height="8.60" fill="#464646"/><rect x="332.00" y="328.90" width="6.8" height="0.6" fill="#686868"/><rect x="333.50" y="323.80" width="3.8" height="3.8" fill="#000"/><rect x="341.52" y="321.50" width="8.8" height="8.60" fill="#464646"/><rect x="342.52" y="328.90" width="6.8" height="0.6" fill="#686868"/><rect x="344.02" y="323.80" width="3.8" height="3.8" fill="#000"/><rect x="352.04" y="321.50" width="8.8" height="8.60" fill="#464646"/><rect x="353.04" y="328.90" width="6.8" height="0.6" fill="#686868"/><rect x="354.54" y="323.80" width="3.8" height="3.8" fill="#000"/><rect x="362.56" y="321.50" width="8.8" height="8.60" fill="#464646"/><rect x="363.56" y="328.90" width="6.8" height="0.6" fill="#686868"/><rect x="365.06" y="323.80" width="3.8" height="3.8" fill="#000"/><rect x="373.08" y="321.50" width="8.8" height="8.60" fill="#464646"/><rect x="374.08" y="328.90" width="6.8" height="0.6" fill="#686868"/><rect x="375.58" y="323.80" width="3.8" height="3.8" fill="#000"/>
<rect x="389.6" y="321" width="83.40" height="9.60" fill="#363636"/><rect x="390.20" y="321.50" width="8.8" height="8.60" fill="#464646"/><rect x="391.20" y="328.90" width="6.8" height="0.6" fill="#686868"/><rect x="392.70" y="323.80" width="3.8" height="3.8" fill="#000"/><circle cx="394.60" cy="325.80" r="2.3" fill="#0a5a0a" stroke="#2a9a2a" stroke-width="0.8"/><rect x="400.70" y="321.50" width="8.8" height="8.60" fill="#464646"/><rect x="401.70" y="328.90" width="6.8" height="0.6" fill="#686868"/><rect x="403.20" y="323.80" width="3.8" height="3.8" fill="#000"/><rect x="411.20" y="321.50" width="8.8" height="8.60" fill="#464646"/><rect x="412.20" y="328.90" width="6.8" height="0.6" fill="#686868"/><rect x="413.70" y="323.80" width="3.8" height="3.8" fill="#000"/><rect x="421.70" y="321.50" width="8.8" height="8.60" fill="#464646"/><rect x="422.70" y="328.90" width="6.8" height="0.6" fill="#686868"/><rect x="424.20" y="323.80" width="3.8" height="3.8" fill="#000"/><rect x="432.20" y="321.50" width="8.8" height="8.60" fill="#464646"/><rect x="433.20" y="328.90" width="6.8" height="0.6" fill="#686868"/><rect x="434.70" y="323.80" width="3.8" height="3.8" fill="#000"/><rect x="442.70" y="321.50" width="8.8" height="8.60" fill="#464646"/><rect x="443.70" y="328.90" width="6.8" height="0.6" fill="#686868"/><rect x="445.20" y="323.80" width="3.8" height="3.8" fill="#000"/><rect x="453.20" y="321.50" width="8.8" height="8.60" fill="#464646"/><rect x="454.20" y="328.90" width="6.8" height="0.6" fill="#686868"/><rect x="455.70" y="323.80" width="3.8" height="3.8" fill="#000"/><rect x="463.70" y="321.50" width="8.8" height="8.60" fill="#464646"/><rect x="464.70" y="328.90" width="6.8" height="0.6" fill="#686868"/><rect x="466.20" y="323.80" width="3.8" height="3.8" fill="#000"/>
<rect x="315.8" y="521" width="83.70" height="9.60" fill="#363636"/><rect x="316.60" y="521.50" width="8.8" height="8.60" fill="#464646"/><rect x="317.60" y="528.90" width="6.8" height="0.6" fill="#686868"/><rect x="319.10" y="523.80" width="3.8" height="3.8" fill="#000"/><rect x="327.10" y="521.50" width="8.8" height="8.60" fill="#464646"/><rect x="328.10" y="528.90" width="6.8" height="0.6" fill="#686868"/><rect x="329.60" y="523.80" width="3.8" height="3.8" fill="#000"/><rect x="337.60" y="521.50" width="8.8" height="8.60" fill="#464646"/><rect x="338.60" y="528.90" width="6.8" height="0.6" fill="#686868"/><rect x="340.10" y="523.80" width="3.8" height="3.8" fill="#000"/><rect x="348.10" y="521.50" width="8.8" height="8.60" fill="#464646"/><rect x="349.10" y="528.90" width="6.8" height="0.6" fill="#686868"/><rect x="350.60" y="523.80" width="3.8" height="3.8" fill="#000"/><rect x="358.60" y="521.50" width="8.8" height="8.60" fill="#464646"/><rect x="359.60" y="528.90" width="6.8" height="0.6" fill="#686868"/><rect x="361.10" y="523.80" width="3.8" height="3.8" fill="#000"/><circle cx="363.00" cy="525.80" r="2.3" fill="#0a5a0a" stroke="#2a9a2a" stroke-width="0.8"/><rect x="369.10" y="521.50" width="8.8" height="8.60" fill="#464646"/><rect x="370.10" y="528.90" width="6.8" height="0.6" fill="#686868"/><rect x="371.60" y="523.80" width="3.8" height="3.8" fill="#000"/><circle cx="373.50" cy="525.80" r="2.3" fill="#0a5a0a" stroke="#2a9a2a" stroke-width="0.8"/><rect x="379.60" y="521.50" width="8.8" height="8.60" fill="#464646"/><rect x="380.60" y="528.90" width="6.8" height="0.6" fill="#686868"/><rect x="382.10" y="523.80" width="3.8" height="3.8" fill="#000"/><circle cx="384.00" cy="525.80" r="2.3" fill="#0a5a0a" stroke="#2a9a2a" stroke-width="0.8"/><rect x="390.10" y="521.50" width="8.8" height="8.60" fill="#464646"/><rect x="391.10" y="528.90" width="6.8" height="0.6" fill="#686868"/><rect x="392.60" y="523.80" width="3.8" height="3.8" fill="#000"/>
<rect x="411.1" y="521" width="62.30" height="9.60" fill="#363636"/><rect x="411.20" y="521.50" width="8.8" height="8.60" fill="#464646"/><rect x="412.20" y="528.90" width="6.8" height="0.6" fill="#686868"/><rect x="413.70" y="523.80" width="3.8" height="3.8" fill="#000"/><circle cx="415.60" cy="525.80" r="2.3" fill="#0a5a0a" stroke="#2a9a2a" stroke-width="0.8"/><rect x="421.74" y="521.50" width="8.8" height="8.60" fill="#464646"/><rect x="422.74" y="528.90" width="6.8" height="0.6" fill="#686868"/><rect x="424.24" y="523.80" width="3.8" height="3.8" fill="#000"/><rect x="432.28" y="521.50" width="8.8" height="8.60" fill="#464646"/><rect x="433.28" y="528.90" width="6.8" height="0.6" fill="#686868"/><rect x="434.78" y="523.80" width="3.8" height="3.8" fill="#000"/><rect x="442.82" y="521.50" width="8.8" height="8.60" fill="#464646"/><rect x="443.82" y="528.90" width="6.8" height="0.6" fill="#686868"/><rect x="445.32" y="523.80" width="3.8" height="3.8" fill="#000"/><rect x="453.36" y="521.50" width="8.8" height="8.60" fill="#464646"/><rect x="454.36" y="528.90" width="6.8" height="0.6" fill="#686868"/><rect x="455.86" y="523.80" width="3.8" height="3.8" fill="#000"/><rect x="463.90" y="521.50" width="8.8" height="8.60" fill="#464646"/><rect x="464.90" y="528.90" width="6.8" height="0.6" fill="#686868"/><rect x="466.40" y="523.80" width="3.8" height="3.8" fill="#000"/>
<rect x="266.20" y="334.8" width="9.2" height="20.4" rx="2.8" fill="#3a3a3a"/>
<rect x="268.90" y="338.00" width="3.8" height="3.8" fill="#a89a70"/>
<rect x="268.90" y="348.40" width="3.8" height="3.8" fill="#a89a70"/>
<rect x="276.30" y="334.8" width="9.2" height="20.4" rx="2.8" fill="#3a3a3a"/>
<rect x="279.00" y="338.00" width="3.8" height="3.8" fill="#a89a70"/>
<rect x="279.00" y="348.40" width="3.8" height="3.8" fill="#a89a70"/>
<rect x="286.80" y="334.8" width="9.2" height="20.4" rx="2.8" fill="#3a3a3a"/>
<rect x="289.50" y="338.00" width="3.8" height="3.8" fill="#a89a70"/>
<rect x="289.50" y="348.40" width="3.8" height="3.8" fill="#a89a70"/>
<rect x="464.2" y="405.50" width="19.6" height="9.4" rx="2.6" fill="#3a3a3a"/>
<rect x="466.90" y="408.30" width="3.8" height="3.8" fill="#a89a70"/>
<circle cx="479.5" cy="410.2" r="2.7" fill="#3a9a3a"/><circle cx="479.5" cy="410.2" r="1.5" fill="#44a844"/>
<rect x="464.2" y="415.90" width="19.6" height="9.4" rx="2.6" fill="#3a3a3a"/>
<rect x="466.90" y="418.70" width="3.8" height="3.8" fill="#a89a70"/>
<rect x="477.60" y="418.70" width="3.8" height="3.8" fill="#a89a70"/>
<rect x="464.2" y="426.30" width="19.6" height="9.4" rx="2.6" fill="#3a3a3a"/>
<rect x="466.90" y="429.10" width="3.8" height="3.8" fill="#a89a70"/>
<circle cx="479.5" cy="431.0" r="2.7" fill="#3a9a3a"/><circle cx="479.5" cy="431.0" r="1.5" fill="#44a844"/>
<rect x="314" y="357.3" width="157.5" height="1.4" fill="#e8eef2"/>
<rect x="346.5" y="499.4" width="53.5" height="1.3" fill="#e8eef2"/>
<rect x="411" y="499.4" width="60.5" height="1.3" fill="#e8eef2"/>
<rect x="314.6" y="362.5" width="11.2" height="5.9" fill="#d6c690"/><rect x="316.1" y="363.7" width="8.2" height="3.5" fill="#f2f2ee"/><path d="M316.6 364.0 L323.8 366.9" stroke="#d8d0a8" stroke-width="0.5"/>
<rect x="314.6" y="382.1" width="11.2" height="5.9" fill="#d6c690"/><rect x="316.1" y="383.3" width="8.2" height="3.5" fill="#f2f2ee"/><path d="M316.6 383.6 L323.8 386.5" stroke="#d8d0a8" stroke-width="0.5"/>
<rect x="314.6" y="391.4" width="11.2" height="5.9" fill="#d6c690"/><rect x="316.1" y="392.59999999999997" width="8.2" height="3.5" fill="#f2f2ee"/><path d="M316.6 392.9 L323.8 395.79999999999995" stroke="#d8d0a8" stroke-width="0.5"/>
<rect x="445.4" y="382.6" width="11.2" height="5.9" fill="#d6c690"/><rect x="446.9" y="383.8" width="8.2" height="3.5" fill="#f2f2ee"/><path d="M447.4 384.1 L454.59999999999997 387.0" stroke="#d8d0a8" stroke-width="0.5"/>
<text transform="translate(306.52,333.30) rotate(-90)" text-anchor="end" style="font-family:'Liberation Mono',monospace;fill:#e4e8ea;stroke:#e4e8ea;stroke-width:0.22px;font-size:6.6px" textLength="15.00" lengthAdjust="spacingAndGlyphs">AREF</text>
<text transform="translate(317.04,333.30) rotate(-90)" text-anchor="end" style="font-family:'Liberation Mono',monospace;fill:#e4e8ea;stroke:#e4e8ea;stroke-width:0.22px;font-size:6.6px" textLength="11.25" lengthAdjust="spacingAndGlyphs">GND</text>
<text transform="translate(327.56,333.30) rotate(-90)" text-anchor="end" style="font-family:'Liberation Mono',monospace;fill:#e4e8ea;stroke:#e4e8ea;stroke-width:0.22px;font-size:6.6px" textLength="7.50" lengthAdjust="spacingAndGlyphs">13</text>
<text transform="translate(338.08,333.30) rotate(-90)" text-anchor="end" style="font-family:'Liberation Mono',monospace;fill:#e4e8ea;stroke:#e4e8ea;stroke-width:0.22px;font-size:6.6px" textLength="7.50" lengthAdjust="spacingAndGlyphs">12</text>
<text transform="translate(348.60,333.30) rotate(-90)" text-anchor="end" style="font-family:'Liberation Mono',monospace;fill:#e4e8ea;stroke:#e4e8ea;stroke-width:0.22px;font-size:6.6px" textLength="11.25" lengthAdjust="spacingAndGlyphs">~11</text>
<text transform="translate(359.12,333.30) rotate(-90)" text-anchor="end" style="font-family:'Liberation Mono',monospace;fill:#e4e8ea;stroke:#e4e8ea;stroke-width:0.22px;font-size:6.6px" textLength="11.25" lengthAdjust="spacingAndGlyphs">~10</text>
<text transform="translate(369.64,333.30) rotate(-90)" text-anchor="end" style="font-family:'Liberation Mono',monospace;fill:#e4e8ea;stroke:#e4e8ea;stroke-width:0.22px;font-size:6.6px" textLength="7.50" lengthAdjust="spacingAndGlyphs">~9</text>
<text transform="translate(380.16,333.30) rotate(-90)" text-anchor="end" style="font-family:'Liberation Mono',monospace;fill:#e4e8ea;stroke:#e4e8ea;stroke-width:0.22px;font-size:6.6px" textLength="3.75" lengthAdjust="spacingAndGlyphs">8</text>
<text transform="translate(397.28,333.30) rotate(-90)" text-anchor="end" style="font-family:'Liberation Mono',monospace;fill:#e4e8ea;stroke:#e4e8ea;stroke-width:0.22px;font-size:6.6px" textLength="3.75" lengthAdjust="spacingAndGlyphs">7</text>
<text transform="translate(407.78,333.30) rotate(-90)" text-anchor="end" style="font-family:'Liberation Mono',monospace;fill:#e4e8ea;stroke:#e4e8ea;stroke-width:0.22px;font-size:6.6px" textLength="7.50" lengthAdjust="spacingAndGlyphs">~6</text>
<text transform="translate(418.28,333.30) rotate(-90)" text-anchor="end" style="font-family:'Liberation Mono',monospace;fill:#e4e8ea;stroke:#e4e8ea;stroke-width:0.22px;font-size:6.6px" textLength="7.50" lengthAdjust="spacingAndGlyphs">~5</text>
<text transform="translate(428.78,333.30) rotate(-90)" text-anchor="end" style="font-family:'Liberation Mono',monospace;fill:#e4e8ea;stroke:#e4e8ea;stroke-width:0.22px;font-size:6.6px" textLength="3.75" lengthAdjust="spacingAndGlyphs">4</text>
<text transform="translate(439.28,333.30) rotate(-90)" text-anchor="end" style="font-family:'Liberation Mono',monospace;fill:#e4e8ea;stroke:#e4e8ea;stroke-width:0.22px;font-size:6.6px" textLength="7.50" lengthAdjust="spacingAndGlyphs">~3</text>
<text transform="translate(449.78,333.30) rotate(-90)" text-anchor="end" style="font-family:'Liberation Mono',monospace;fill:#e4e8ea;stroke:#e4e8ea;stroke-width:0.22px;font-size:6.6px" textLength="3.75" lengthAdjust="spacingAndGlyphs">2</text>
<text transform="translate(460.28,333.30) rotate(-90)" text-anchor="end" style="font-family:'Liberation Mono',monospace;fill:#e4e8ea;stroke:#e4e8ea;stroke-width:0.22px;font-size:6.6px" textLength="22.50" lengthAdjust="spacingAndGlyphs">TXO▶1</text>
<text transform="translate(470.78,333.30) rotate(-90)" text-anchor="end" style="font-family:'Liberation Mono',monospace;fill:#e4e8ea;stroke:#e4e8ea;stroke-width:0.22px;font-size:6.6px" textLength="22.50" lengthAdjust="spacingAndGlyphs">RXO◀0</text>
<text transform="translate(334.18,517.80) rotate(-90)" text-anchor="start" style="font-family:'Liberation Mono',monospace;fill:#e4e8ea;stroke:#e4e8ea;stroke-width:0.22px;font-size:6.6px" textLength="16.25" lengthAdjust="spacingAndGlyphs">IOREF</text>
<text transform="translate(344.68,517.80) rotate(-90)" text-anchor="start" style="font-family:'Liberation Mono',monospace;fill:#e4e8ea;stroke:#e4e8ea;stroke-width:0.22px;font-size:6.6px" textLength="16.25" lengthAdjust="spacingAndGlyphs">RESET</text>
<text transform="translate(355.18,517.80) rotate(-90)" text-anchor="start" style="font-family:'Liberation Mono',monospace;fill:#e4e8ea;stroke:#e4e8ea;stroke-width:0.22px;font-size:6.6px" textLength="9.75" lengthAdjust="spacingAndGlyphs">3V3</text>
<text transform="translate(365.68,517.80) rotate(-90)" text-anchor="start" style="font-family:'Liberation Mono',monospace;fill:#e4e8ea;stroke:#e4e8ea;stroke-width:0.22px;font-size:6.6px" textLength="6.50" lengthAdjust="spacingAndGlyphs">5V</text>
<text transform="translate(376.18,517.80) rotate(-90)" text-anchor="start" style="font-family:'Liberation Mono',monospace;fill:#e4e8ea;stroke:#e4e8ea;stroke-width:0.22px;font-size:6.6px" textLength="9.75" lengthAdjust="spacingAndGlyphs">GND</text>
<text transform="translate(386.68,517.80) rotate(-90)" text-anchor="start" style="font-family:'Liberation Mono',monospace;fill:#e4e8ea;stroke:#e4e8ea;stroke-width:0.22px;font-size:6.6px" textLength="9.75" lengthAdjust="spacingAndGlyphs">GND</text>
<text transform="translate(397.18,517.80) rotate(-90)" text-anchor="start" style="font-family:'Liberation Mono',monospace;fill:#e4e8ea;stroke:#e4e8ea;stroke-width:0.22px;font-size:6.6px" textLength="9.75" lengthAdjust="spacingAndGlyphs">VIN</text>
<text transform="translate(418.28,517.80) rotate(-90)" text-anchor="start" style="font-family:'Liberation Mono',monospace;fill:#e4e8ea;stroke:#e4e8ea;stroke-width:0.22px;font-size:6.6px" textLength="6.50" lengthAdjust="spacingAndGlyphs">A0</text>
<text transform="translate(428.82,517.80) rotate(-90)" text-anchor="start" style="font-family:'Liberation Mono',monospace;fill:#e4e8ea;stroke:#e4e8ea;stroke-width:0.22px;font-size:6.6px" textLength="6.50" lengthAdjust="spacingAndGlyphs">A1</text>
<text transform="translate(439.36,517.80) rotate(-90)" text-anchor="start" style="font-family:'Liberation Mono',monospace;fill:#e4e8ea;stroke:#e4e8ea;stroke-width:0.22px;font-size:6.6px" textLength="6.50" lengthAdjust="spacingAndGlyphs">A2</text>
<text transform="translate(449.90,517.80) rotate(-90)" text-anchor="start" style="font-family:'Liberation Mono',monospace;fill:#e4e8ea;stroke:#e4e8ea;stroke-width:0.22px;font-size:6.6px" textLength="6.50" lengthAdjust="spacingAndGlyphs">A3</text>
<text transform="translate(460.44,517.80) rotate(-90)" text-anchor="start" style="font-family:'Liberation Mono',monospace;fill:#e4e8ea;stroke:#e4e8ea;stroke-width:0.22px;font-size:6.6px" textLength="6.50" lengthAdjust="spacingAndGlyphs">A4</text>
<text transform="translate(470.98,517.80) rotate(-90)" text-anchor="start" style="font-family:'Liberation Mono',monospace;fill:#e4e8ea;stroke:#e4e8ea;stroke-width:0.22px;font-size:6.6px" textLength="6.50" lengthAdjust="spacingAndGlyphs">A5</text>
<text x="391.4" y="355.9" style="font-family:'Liberation Mono',monospace;fill:#e4e8ea;stroke:#e4e8ea;stroke-width:0.22px;font-size:6.2px" textLength="57" lengthAdjust="spacingAndGlyphs">DIGITAL (PWM=~)</text>
<text x="380.9" y="507" style="font-family:'Liberation Mono',monospace;fill:#e4e8ea;stroke:#e4e8ea;stroke-width:0.22px;font-size:6.6px" textLength="18.6" lengthAdjust="spacingAndGlyphs">POWER</text>
<text x="436" y="507.4" style="font-family:'Liberation Mono',monospace;fill:#e4e8ea;stroke:#e4e8ea;stroke-width:0.22px;font-size:6.6px" textLength="34" lengthAdjust="spacingAndGlyphs">ANALOG IN</text>
<text x="265.7" y="362.6" style="font-family:'Liberation Mono',monospace;fill:#e4e8ea;stroke:#e4e8ea;stroke-width:0.22px;font-size:6.6px" textLength="21.5" lengthAdjust="spacingAndGlyphs">ICSP2</text>
<text x="307.8" y="368.6" style="font-family:'Liberation Mono',monospace;fill:#e4e8ea;stroke:#e4e8ea;stroke-width:0.22px;font-size:7.4px">L</text>
<text x="303.0" y="388.1" style="font-family:'Liberation Mono',monospace;fill:#e4e8ea;stroke:#e4e8ea;stroke-width:0.22px;font-size:7.4px">TX</text>
<text x="303.0" y="397.3" style="font-family:'Liberation Mono',monospace;fill:#e4e8ea;stroke:#e4e8ea;stroke-width:0.22px;font-size:7.4px">RX</text>
<text x="457.2" y="388.4" style="font-family:'Liberation Mono',monospace;fill:#e4e8ea;stroke:#e4e8ea;stroke-width:0.22px;font-size:7.4px">ON</text>
<text x="458.4" y="410.6" style="font-family:'Liberation Mono',monospace;fill:#e4e8ea;stroke:#e4e8ea;stroke-width:0.22px;font-size:7px">1</text>
<text transform="translate(462,436) rotate(-90)" style="font-family:'Liberation Mono',monospace;fill:#e4e8ea;stroke:#e4e8ea;stroke-width:0.22px;font-size:6.6px" textLength="16" lengthAdjust="spacingAndGlyphs">ICSP</text>
<circle cx="296.6" cy="334.5" r="1" fill="none" stroke="#e4e4e4" stroke-width="0.6"/>
<rect x="277.7" y="382.6" width="20.5" height="20.6" fill="#333333"/>
<rect x="320.7" y="457" width="152.9" height="23" fill="#333333"/>
<path fill="none" stroke="#ffffff" stroke-width="4.4" d="M363.2 374 C359 367.5 355 364.1 349.5 364.1 C344.4 364.1 340.3 368.5 340.3 374 C340.3 379.5 344.4 383.9 349.5 383.9 C355 383.9 359 380.5 363.2 374 C367.4 367.5 371.4 364.1 376.9 364.1 C382 364.1 386.1 368.5 386.1 374 C386.1 379.5 382 383.9 376.9 383.9 C371.4 383.9 367.4 380.5 363.2 374 Z"/>
<rect x="346" y="372.5" width="8.5" height="2.6" fill="#fff"/>
<rect x="371" y="372.4" width="8.7" height="2.9" fill="#fff"/><rect x="374" y="370.3" width="3" height="7" fill="#fff"/>
<text x="338.8" y="396.4" style="font-family:'Liberation Mono',monospace;fill:#fff;stroke:#fff;stroke-width:0.15px;font-size:9.2px" textLength="43.8" lengthAdjust="spacingAndGlyphs">Arduino</text>
<text x="383" y="391.2" style="font-family:'Liberation Sans',sans-serif;fill:#fff;font-size:3px">TM</text>
<rect x="392.1" y="363.2" width="48.6" height="21.6" rx="10.8" fill="none" stroke="#f4f4f4" stroke-width="1.6" stroke-dasharray="1.1 0.45"/>
<text x="416.8" y="380.4" text-anchor="middle" style="font-family:'Liberation Sans',sans-serif;fill:#fff;font-size:18.4px" textLength="37.8" lengthAdjust="spacingAndGlyphs">UNO</text>
<rect x="221.8" y="456.8" width="8.6" height="14.9" fill="#a0a0a0"/>
<rect x="244" y="452.0" width="7.8" height="5.2" fill="#a8a8a8"/>
<rect x="244" y="461.8" width="7.8" height="5.2" fill="#a8a8a8"/>
<rect x="244" y="471.6" width="7.8" height="5.2" fill="#a8a8a8"/>
<rect x="230.1" y="450.4" width="14.1" height="27.4" fill="#333333"/>
<rect x="209" y="487" width="43.4" height="33.8" fill="#2a2a2a"/>
<rect x="209" y="487" width="43.4" height="3" fill="#3a3a3a"/>
<rect x="209" y="517.4" width="43.4" height="3.4" fill="#0a0a0a"/>
<path d="M209 493 H230 Q237 494 238 504.5 Q237 515 230 516 H209 Z" fill="#222222"/>
<rect x="198.2" y="486" width="11.3" height="36.2" rx="1" fill="#252525"/>
<rect x="252.4" y="496.4" width="2.2" height="14.6" fill="#4a4a4a"/>
<path d="M273.2 485.2 H289.8 L294.8 490.2 V509.8 Q294.8 511.3 293.3 511.3 H269.7 Q268.2 511.3 268.2 509.8 V490.2 Z" fill="#333333"/>
<circle cx="281.5" cy="498.4" r="12.95" fill="#e6e6e6"/>
<path d="M271.3 506.3 A12.95 12.95 0 0 0 291.7 506.3 Z" fill="#050505"/>
<rect x="280.7" y="483.8" width="1.6" height="1.4" fill="#d8d8d8"/><rect x="280.7" y="512.1" width="1.6" height="1.4" fill="#d8d8d8"/>
<path d="M302.6 485.2 H319.2 L324.2 490.2 V509.8 Q324.2 511.3 322.7 511.3 H299.1 Q297.6 511.3 297.6 509.8 V490.2 Z" fill="#333333"/>
<circle cx="310.9" cy="498.4" r="12.95" fill="#e6e6e6"/>
<path d="M300.7 506.3 A12.95 12.95 0 0 0 321.1 506.3 Z" fill="#050505"/>
<rect x="310.1" y="483.8" width="1.6" height="1.4" fill="#d8d8d8"/><rect x="310.1" y="512.1" width="1.6" height="1.4" fill="#d8d8d8"/>
<path d="M226.40 168.10 L226.40 199.70" stroke="#2a2a2a" stroke-width="4.10" fill="none" stroke-linejoin="miter" stroke-linecap="round"/><path d="M226.40 168.10 L226.40 199.70" stroke="#3e3e3e" stroke-width="2.60" fill="none" stroke-linejoin="miter" stroke-linecap="round"/>
<path d="M194.60 199.70 L194.60 294.90 L309.80 294.90 L314.20 325.70" stroke="#0e0e0e" stroke-width="4.10" fill="none" stroke-linejoin="miter" stroke-linecap="round"/><path d="M194.60 199.70 L194.60 294.90 L309.80 294.90 L314.20 325.70" stroke="#333333" stroke-width="2.60" fill="none" stroke-linejoin="miter" stroke-linecap="round"/><circle cx="194.60" cy="294.90" r="1.95" fill="#000"/><circle cx="309.80" cy="294.90" r="1.95" fill="#000"/>
<circle cx="226.3" cy="294.7" r="2.3" fill="#000"/>
<path d="M131.80 168.10 L131.80 226.40 L131.40 227.00 L131.40 273.40 L394.50 273.40 L394.50 325.60" stroke="#a60c10" stroke-width="4.10" fill="none" stroke-linejoin="miter" stroke-linecap="round"/><path d="M131.80 168.10 L131.80 226.40 L131.40 227.00 L131.40 273.40 L394.50 273.40 L394.50 325.60" stroke="#cf1418" stroke-width="2.60" fill="none" stroke-linejoin="miter" stroke-linecap="round"/><circle cx="131.40" cy="273.40" r="1.95" fill="#8a0a0a"/><circle cx="394.50" cy="273.40" r="1.95" fill="#8a0a0a"/>
<path d="M247.50 168.10 L247.50 252.10 L499.70 252.10 L499.70 547.10 L415.60 547.10 L415.60 525.70" stroke="#d8cc20" stroke-width="4.10" fill="none" stroke-linejoin="miter" stroke-linecap="round"/><path d="M247.50 168.10 L247.50 252.10 L499.70 252.10 L499.70 547.10 L415.60 547.10 L415.60 525.70" stroke="#fff700" stroke-width="2.60" fill="none" stroke-linejoin="miter" stroke-linecap="round"/><circle cx="247.50" cy="252.10" r="1.95" fill="#d8d040"/><circle cx="499.70" cy="252.10" r="1.95" fill="#d8d040"/><circle cx="499.70" cy="547.10" r="1.95" fill="#d8d040"/><circle cx="415.60" cy="547.10" r="1.95" fill="#d8d040"/>
<path d="M268.50 168.10 L268.50 231.30 L520.80 231.30 L520.80 568.20 L363.00 568.20 L363.00 525.70" stroke="#a60c10" stroke-width="4.10" fill="none" stroke-linejoin="miter" stroke-linecap="round"/><path d="M268.50 168.10 L268.50 231.30 L520.80 231.30 L520.80 568.20 L363.00 568.20 L363.00 525.70" stroke="#cf1418" stroke-width="2.60" fill="none" stroke-linejoin="miter" stroke-linecap="round"/><circle cx="268.50" cy="231.30" r="1.95" fill="#8a0a0a"/><circle cx="520.80" cy="231.30" r="1.95" fill="#8a0a0a"/><circle cx="520.80" cy="568.20" r="1.95" fill="#8a0a0a"/><circle cx="363.00" cy="568.20" r="1.95" fill="#8a0a0a"/>
<circle cx="520.8" cy="378.8" r="1.9" fill="#8a0a0a"/><circle cx="520.8" cy="536.7" r="1.9" fill="#8a0a0a"/>
<circle cx="131.80" cy="168.10" r="2.3" fill="#a04010" opacity="0.85"/>
<circle cx="268.50" cy="168.10" r="2.3" fill="#a04010" opacity="0.85"/>
<circle cx="247.50" cy="168.10" r="2.3" fill="#c8e040" opacity="0.85"/>
<circle cx="226.40" cy="168.10" r="2.3" fill="#2a4a2a" opacity="0.85"/>
<circle cx="226.40" cy="199.70" r="2.3" fill="#2a4a2a" opacity="0.85"/>
<circle cx="194.60" cy="199.70" r="2.3" fill="#2a4a2a" opacity="0.85"/>
<circle cx="394.50" cy="325.60" r="2.6" fill="#a84412" stroke="#30a030" stroke-width="0.9"/>
<circle cx="363.00" cy="525.70" r="2.6" fill="#a84412" stroke="#30a030" stroke-width="0.9"/>
<circle cx="415.60" cy="525.70" r="2.6" fill="#c0e830" stroke="#30a030" stroke-width="0.9"/>
<circle cx="314.20" cy="325.70" r="2.6" fill="#1c4c1c" stroke="#30a030" stroke-width="0.9"/>
<text x="616.8" y="595.8" style="font-family:'Liberation Sans',sans-serif;font-size:18.5px;fill:#8a8a8a;stroke:#8a8a8a;stroke-width:0.35px;letter-spacing:2.1px">fritzing</text>
</svg>
</body></html>
